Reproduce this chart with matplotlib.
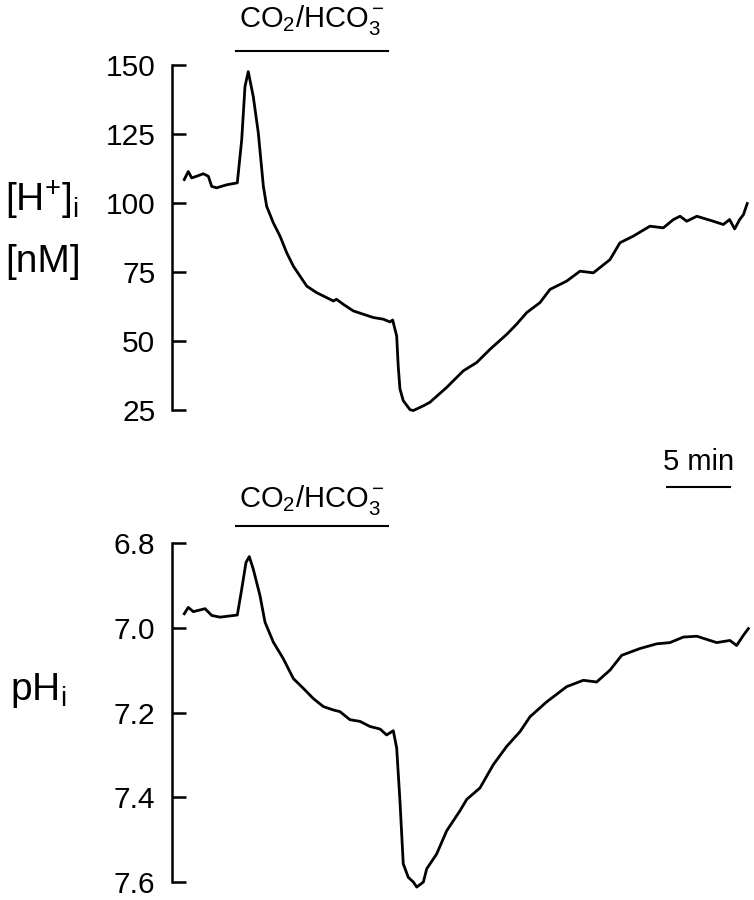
import numpy as np
import matplotlib
matplotlib.use("Agg")
import matplotlib.pyplot as plt
import matplotlib.transforms as mtransforms

plt.rcParams['font.family'] = ['Liberation Sans', 'DejaVu Sans']
plt.rcParams['mathtext.fontset'] = 'custom'
plt.rcParams['mathtext.rm'] = 'Liberation Sans'
plt.rcParams['mathtext.it'] = 'Liberation Sans'
plt.rcParams['mathtext.bf'] = 'Liberation Sans:bold'

# tempo (min) e [H+]i (nM)
t_h = [0.02, 0.34, 0.61, 1.01, 1.53, 1.93, 2.20, 2.59, 3.39, 4.23, 4.58, 4.84, 5.10,
       5.50, 5.90, 6.30, 6.56, 7.09, 7.62, 8.15, 8.68, 9.21, 9.74, 10.53, 11.33,
       11.85, 12.11, 12.64, 13.44, 14.23, 15.03, 15.82, 16.35, 16.56, 16.88, 17.0,
       17.14, 17.40, 17.94, 18.20, 18.99, 19.52, 20.85, 22.17, 23.23, 24.29, 25.61,
       26.40, 27.20, 28.25, 29.05, 30.37, 31.43, 32.49, 33.81, 34.60, 35.66, 36.98,
       38.04, 38.84, 39.37, 39.9, 40.7, 42.0, 42.8, 43.3, 43.7, 44.1, 44.4, 44.7]
h_nM = [108.5, 111.4, 109.1, 109.7, 110.6, 109.7, 106.0, 105.5, 106.6, 107.3, 122.9,
        142.2, 147.6, 138.5, 125.3, 106.0, 98.8, 92.8, 88.0, 82.0, 77.1, 73.5, 69.9,
        67.5, 65.7, 64.5, 65.1, 63.3, 60.9, 59.7, 58.5, 57.9, 56.9, 57.6, 51.8, 41.0,
        32.6, 28.4, 25.1, 24.8, 26.5, 27.8, 33.2, 39.2, 42.2, 47.0, 52.4,
        56.1, 60.3, 63.9, 68.7, 71.7, 75.3, 74.7, 79.5, 85.6, 88.0, 91.6,
        91.0, 94.0, 95.2, 93.4, 95.2, 93.4, 92.2, 94.0, 90.6, 94.0, 95.8, 99.8]

# tempo (min) e pHi
t_ph = [0.02, 0.34, 0.74, 1.67, 2.20, 2.86, 4.23, 4.58, 4.92, 5.18, 5.50, 6.03, 6.43,
        7.09, 7.88, 8.68, 9.47, 10.26, 11.06, 11.85, 12.38, 13.17, 13.97, 14.76,
        15.56, 16.08, 16.61, 16.88, 17.14, 17.40, 17.80, 18.2, 18.47, 19.0, 19.26,
        20.05, 20.85, 21.90, 22.44, 23.49, 24.55, 25.61, 26.67, 27.46, 28.78, 30.37,
        31.69, 32.75, 33.81, 34.74, 36.19, 37.51, 38.57, 39.63, 40.7, 42.28, 43.33,
        43.86, 44.39, 44.79]
ph = [6.967, 6.952, 6.962, 6.955, 6.971, 6.975, 6.970, 6.909, 6.846, 6.832, 6.862,
      6.924, 6.987, 7.034, 7.073, 7.120, 7.143, 7.167, 7.186, 7.194, 7.198, 7.217,
      7.221, 7.233, 7.239, 7.253, 7.243, 7.284, 7.409, 7.557, 7.589, 7.600, 7.612,
      7.600, 7.569, 7.534, 7.479, 7.432, 7.405, 7.378, 7.323, 7.280, 7.245, 7.210,
      7.175, 7.139, 7.124, 7.128, 7.100, 7.065, 7.049, 7.038, 7.035, 7.022, 7.020,
      7.035, 7.030, 7.042, 7.018, 7.002]

h_ticks = [25, 50, 75, 100, 125, 150]
ph_ticks = [6.8, 7.0, 7.2, 7.4, 7.6]
co2_on, co2_off = 4.1, 16.2
escala_ini, escala_fim = 38.3, 43.3

W, H = 754, 900
fig = plt.figure(figsize=(W / 100, H / 100), dpi=100, facecolor='white')

x0 = (172 - 184) / 12.6
x1 = (754 - 184) / 12.6


def painel(top_px, bot_px):
    ax = fig.add_axes([172 / W, 1 - bot_px / H, 1 - 172 / W, (bot_px - top_px) / H])
    ax.set_xlim(x0, x1)
    for s in ['top', 'right', 'bottom']:
        ax.spines[s].set_visible(False)
    ax.spines['left'].set_linewidth(1.8)
    ax.set_xticks([])
    ax.tick_params(axis='y', direction='in', length=10, width=1.8, pad=12,
                   labelsize=21.5)
    ax.patch.set_alpha(0)
    return ax


# painel superior [H+]i
ax1 = painel(65, 410)
ax1.plot(t_h, h_nM, color='black', lw=2.0, clip_on=False)
ax1.set_ylim(25, 150)
ax1.set_yticks(h_ticks)
ax1.set_yticklabels([str(v) for v in h_ticks])

tr1 = mtransforms.blended_transform_factory(ax1.transData, ax1.transAxes)
ax1.plot([co2_on, co2_off], [1.04, 1.04], color='black', lw=1.5,
         transform=tr1, clip_on=False)
ax1.text((co2_on + co2_off) / 2, 1.13, r'CO$_2$/HCO$_3^-$', transform=tr1,
         ha='center', va='center', fontsize=21)

# barra de escala
ax1.plot([escala_ini, escala_fim], [-0.223, -0.223], color='black', lw=1.5,
         transform=tr1, clip_on=False)
ax1.text((escala_ini + escala_fim) / 2, -0.151, '5 min', transform=tr1,
         ha='center', va='center', fontsize=21)

# painel inferior pHi
ax2 = painel(543, 882)
ax2.plot(t_ph, ph, color='black', lw=2.0, clip_on=False)
ax2.set_ylim(7.6, 6.8)
ax2.set_yticks(ph_ticks)
ax2.set_yticklabels([f'{v:.1f}' for v in ph_ticks])

tr2 = mtransforms.blended_transform_factory(ax2.transData, ax2.transAxes)
ax2.plot([co2_on, co2_off], [1.05, 1.05], color='black', lw=1.5,
         transform=tr2, clip_on=False)
ax2.text((co2_on + co2_off) / 2, 1.128, r'CO$_2$/HCO$_3^-$', transform=tr2,
         ha='center', va='center', fontsize=21)

# rótulos dos eixos
fig.text(5 / W, 1 - 200 / H, r'$\mathregular{[H^{+}]_{i}}$', fontsize=28, ha='left', va='center')
fig.text(5 / W, 1 - 262 / H, '[nM]', fontsize=28, ha='left', va='center')
fig.text(10 / W, 1 - 690 / H, r'$\mathregular{pH_{i}}$', fontsize=28, ha='left', va='center')

fig.savefig('out.png', dpi=100, facecolor='white')
